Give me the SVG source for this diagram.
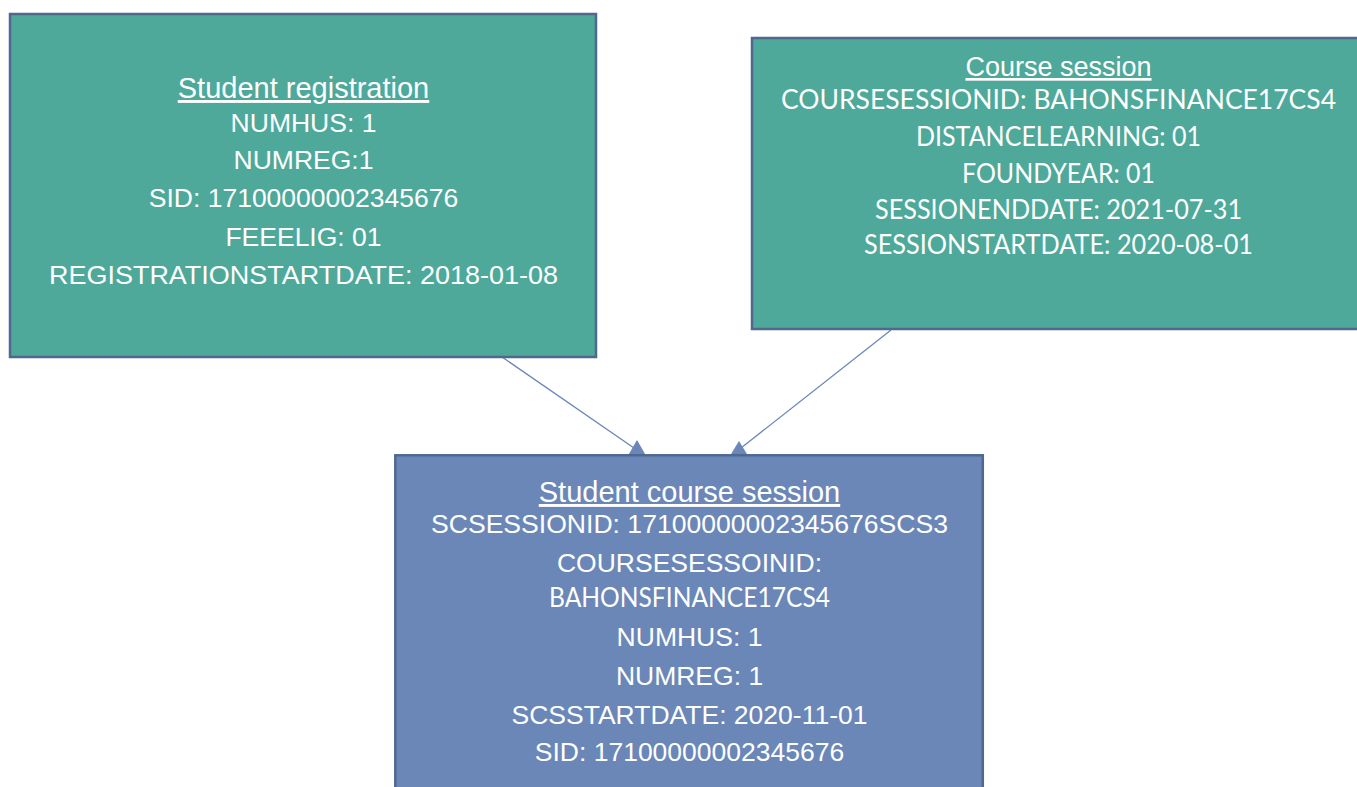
<svg xmlns="http://www.w3.org/2000/svg" width="1357" height="787" viewBox="0 0 1357 787">
<defs>
<style>
.teal{fill:#4EA99A;stroke:#4E6890;stroke-width:2.5}
.blue{fill:#6A87B8;stroke:#4E6890;stroke-width:2.5}
.t{fill:#FFFFFF;text-anchor:middle}
.a{font-family:"Liberation Sans",Arial,sans-serif;font-size:26.5px}
.h{font-family:"Liberation Sans",Arial,sans-serif;font-size:29px;text-decoration:underline}
.c{font-family:Lato,"Open Sans",sans-serif;font-size:27px}
.conn{stroke:#6A87B8;stroke-width:1.3;fill:none}
.head{fill:#6A87B8}
</style>
</defs>
<rect width="1357" height="787" fill="#FFFFFF"/>
<g id="connectors">
<line class="conn" x1="502" y1="357" x2="634" y2="448"/>
<polygon class="head" points="637,440 626,459 648,459"/>
<line class="conn" x1="891" y1="330" x2="741" y2="448"/>
<polygon class="head" points="739,441 728,459 750,459"/>
</g>
<g id="student-registration">
<rect class="teal" x="10" y="14" width="586" height="343"/>
<text class="t h" x="303.5" y="98">Student registration</text>
<text class="t a" x="303.5" y="132">NUMHUS: 1</text>
<text class="t a" x="303.5" y="169">NUMREG:1</text>
<text class="t a" x="303.5" y="207">SID: 17100000002345676</text>
<text class="t a" x="303.5" y="246">FEEELIG: 01</text>
<text class="t a" x="303.5" y="284" textLength="509" lengthAdjust="spacingAndGlyphs">REGISTRATIONSTARTDATE: 2018-01-08</text>
</g>
<g id="course-session">
<rect class="teal" x="752" y="38" width="610" height="291"/>
<text class="t h" x="1058.5" y="76" style="font-size:27px">Course session</text>
<text class="t c" x="1058.5" y="109" textLength="555" lengthAdjust="spacingAndGlyphs">COURSESESSIONID: BAHONSFINANCE17CS4</text>
<text class="t c" x="1058.5" y="146" textLength="285" lengthAdjust="spacingAndGlyphs">DISTANCELEARNING: 01</text>
<text class="t c" x="1058.5" y="183" textLength="193" lengthAdjust="spacingAndGlyphs">FOUNDYEAR: 01</text>
<text class="t c" x="1058.5" y="219" textLength="367" lengthAdjust="spacingAndGlyphs">SESSIONENDDATE: 2021-07-31</text>
<text class="t c" x="1058.5" y="254" textLength="389" lengthAdjust="spacingAndGlyphs">SESSIONSTARTDATE: 2020-08-01</text>
</g>
<g id="student-course-session">
<rect class="blue" x="395.3" y="455.3" width="587.5" height="340"/>
<text class="t h" x="689.5" y="502">Student course session</text>
<text class="t a" x="689.5" y="533" textLength="517" lengthAdjust="spacingAndGlyphs">SCSESSIONID: 17100000002345676SCS3</text>
<text class="t a" x="689.5" y="572">COURSESESSOINID:</text>
<text class="t c" x="689.5" y="607" textLength="281" lengthAdjust="spacingAndGlyphs">BAHONSFINANCE17CS4</text>
<text class="t a" x="689.5" y="646">NUMHUS: 1</text>
<text class="t a" x="689.5" y="685">NUMREG: 1</text>
<text class="t a" x="689.5" y="724">SCSSTARTDATE: 2020-11-01</text>
<text class="t a" x="689.5" y="761">SID: 17100000002345676</text>
</g>
</svg>
